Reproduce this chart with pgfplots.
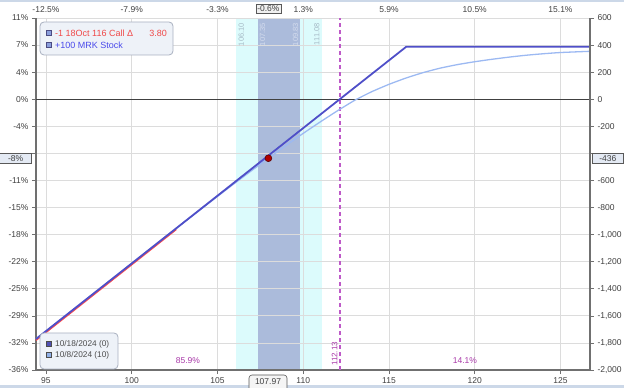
\documentclass[border=0pt]{standalone}
\usepackage{pgfplots}
\pgfplotsset{compat=1.18}
\usepackage{pgfplotstable}
\usepackage{fontspec}
\setmainfont{Liberation Sans}
\definecolor{darkline}{HTML}{4F4FC8}
\definecolor{lightline}{HTML}{9CB9F2}
\definecolor{redline}{HTML}{FF4A4A}
\definecolor{cyanband}{HTML}{DCFBFC}
\definecolor{darkband}{HTML}{ABBBDB}
\definecolor{purp}{HTML}{A838A8}
\definecolor{dashcol}{HTML}{BE5AC8}
\definecolor{ticktext}{HTML}{404040}
\definecolor{axisline}{HTML}{707070}
\definecolor{gridc}{HTML}{DCDCDC}
\definecolor{legfill}{HTML}{EEF2F8}
\definecolor{legdraw}{HTML}{A8B0C0}
\definecolor{hlfill}{HTML}{E4EAF4}
\definecolor{stripc}{HTML}{CCD8E8}
\definecolor{bandtxt}{HTML}{A6BAC6}
\definecolor{bandtxtl}{HTML}{D4DCEE}
\newcommand\tickfont{\fontsize{8.5}{10}\selectfont}

\pgfplotstableread{
x y
94.42 -1771
116 387
126.72 387
}\expline
\pgfplotstableread{
x y
94.42 -1771
100 -1213
102 -1013
103 -914
104 -816
105 -718
106 -621
107 -526
107.97 -436
109 -341
110 -252
111 -167
112 -85
113 -8
114 56
115 110
116 157
117 197
118 230
119 256
120 277
121 295
122 311
123 325
124 336
125 345
126.72 354
}\tline
\pgfplotstableread{
x y
94.42 -1780
102.6 -961
}\redl

\pgfplotsset{base/.style={
  at={(0pt,0pt)}, anchor=south west,
  scale only axis, width=554pt, height=352pt,
  xmin=94.42, xmax=126.72, ymin=-2000, ymax=600}}

\begin{document}
\begin{tikzpicture}
\useasboundingbox (-36pt,-18pt) rectangle (588pt,370pt);
\fill[stripc] (-36pt,367.5pt) rectangle (588pt,370pt);
\fill[stripc] (-36pt,-18pt) rectangle (588pt,-15pt);
% bands
\begin{axis}[base, hide axis]
\addplot[fill=cyanband, draw=none] coordinates {(106.10,-2000) (106.10,600) (111.08,600) (111.08,-2000)} -- cycle;
\addplot[fill=darkband, draw=none] coordinates {(107.35,-2000) (107.35,600) (109.83,600) (109.83,-2000)} -- cycle;
\end{axis}
\begin{axis}[
  base,
  axis x line*=bottom, axis y line*=left,
  axis line style={-, draw=axisline, line width=1.3pt},
  tick align=outside, major tick length=4pt,
  tick style={draw=axisline, line width=0.6pt},
  xtick={95,100,...,125},
  ytick={-2000,-1800,...,600},
  yticklabels={-36\%,-32\%,-29\%,-25\%,-22\%,-18\%,-15\%,-11\%,{},-4\%,0\%,4\%,7\%,11\%},
  grid=major, grid style={draw=gridc, line width=0.8pt},
  ticklabel style={font=\tickfont, text=ticktext},
  /pgf/number format/assume math mode=true,
  clip=false,
]
\draw[black!75, line width=1pt] (axis cs:94.42,0) -- (axis cs:126.72,0);
\draw[draw=dashcol, line width=1.5pt, dash pattern=on 4pt off 3pt] (axis cs:112.13,-2000) -- (axis cs:112.13,600);
\addplot[lightline, line width=1.3pt, smooth, tension=0.3] table {\tline};
\addplot[redline, line width=1.6pt] table {\redl};
\addplot[darkline, line width=1.8pt] table {\expline};
\addplot[only marks, mark=*, mark size=3.4pt, mark options={fill=red!70!black, draw=red!35!black, line width=0.6pt}] coordinates {(107.97,-436)};
\node[rotate=90, anchor=north east, font=\fontsize{7.5}{9}\selectfont, text=bandtxt, inner sep=1pt] at ([yshift=-4pt, xshift=1pt]axis cs:106.10,600) {106.10};
\node[rotate=90, anchor=north east, font=\fontsize{7.5}{9}\selectfont, text=bandtxtl, inner sep=1pt] at ([yshift=-4pt, xshift=1pt]axis cs:107.35,600) {107.35};
\node[rotate=90, anchor=south east, font=\fontsize{7.5}{9}\selectfont, text=bandtxtl, inner sep=1pt] at ([yshift=-4pt, xshift=-1pt]axis cs:109.83,600) {109.83};
\node[rotate=90, anchor=south east, font=\fontsize{7.5}{9}\selectfont, text=bandtxt, inner sep=1pt] at ([yshift=-4pt, xshift=-1pt]axis cs:111.08,600) {111.08};
\node[rotate=90, anchor=south west, font=\fontsize{8}{9}\selectfont, text=purp, inner sep=1pt] at ([yshift=3pt, xshift=-1pt]axis cs:112.13,-2000) {112.13};
\node[font=\fontsize{8.5}{10}\selectfont, text=purp] at (axis cs:103.28,-1933) {85.9\%};
\node[font=\fontsize{8.5}{10}\selectfont, text=purp] at (axis cs:119.43,-1933) {14.1\%};
\end{axis}
\begin{axis}[
  base,
  axis x line*=top, axis y line*=right,
  x axis line style={draw=none},
  y axis line style={-, draw=axisline, line width=1.3pt},
  tick align=outside, major tick length=4pt,
  ytick style={draw=axisline, line width=0.6pt},
  xtick style={draw=none},
  xtick={95,100,...,125},
  xticklabels={-12.5\%,-7.9\%,-3.3\%,1.3\%,5.9\%,10.5\%,15.1\%},
  xticklabel style={yshift=-2.5pt},
  ytick={-2000,-1800,...,600},
  yticklabels={{-2,000},{-1,800},{-1,600},{-1,400},{-1,200},{-1,000},{-800},{-600},{},{-200},{0},{200},{400},{600}},
  ticklabel style={font=\tickfont, text=ticktext},
]
\addplot[draw=none, forget plot] coordinates {(100,0) (110,-100)};
\end{axis}
% highlighted value boxes
\node[draw=gray!70!black, fill=gray!12, inner sep=1.5pt, font=\tickfont, text=ticktext, line width=0.6pt] at (232.4pt,361pt) {-0.6\%};
\node[draw=gray!70!black, fill=hlfill, inner sep=1.5pt, minimum width=32pt, align=right, anchor=east, font=\tickfont, text=ticktext, line width=0.6pt] at (-4pt,211.7pt) {\hfill-8\%};
\node[draw=gray!70!black, fill=hlfill, inner sep=1.5pt, minimum width=31pt, anchor=west, font=\tickfont, text=ticktext, line width=0.6pt] at (556pt,211.7pt) {-436\hfill};
\draw[draw=gray!70!black, fill=gray!8, line width=0.6pt, rounded corners=3pt] (213pt,-18pt) -- (213pt,-5pt) -- (251pt,-5pt) -- (251pt,-18pt);
\node[font=\tickfont, text=ticktext] at (232pt,-11.5pt) {107.97};
% top legend
\draw[draw=legdraw, fill=legfill, rounded corners=4pt, line width=0.8pt] (4pt,315pt) rectangle (137pt,348pt);
\draw[draw=blue!30!black!70, fill={rgb,255:red,138;green,158;blue,220}, line width=0.5pt] (10.5pt,334.5pt) rectangle (15.5pt,339.5pt);
\draw[draw=blue!30!black!70, fill={rgb,255:red,138;green,158;blue,220}, line width=0.5pt] (10.5pt,322.5pt) rectangle (15.5pt,327.5pt);
\node[anchor=west, inner sep=0pt, font=\fontsize{9}{10}\selectfont, text={rgb,255:red,240;green,72;blue,72}] at (19pt,337pt) {-1 18Oct 116 Call Δ};
\node[anchor=east, inner sep=0pt, font=\fontsize{9}{10}\selectfont, text={rgb,255:red,240;green,72;blue,72}] at (131pt,337pt) {3.80};
\node[anchor=west, inner sep=0pt, font=\fontsize{9}{10}\selectfont, text={rgb,255:red,74;green,74;blue,235}] at (19pt,325pt) {+100 MRK Stock};
% bottom legend
\draw[draw=legdraw, fill=legfill, rounded corners=4pt, line width=0.8pt] (4pt,1pt) rectangle (82pt,37pt);
\draw[draw=gray!60!black, fill={rgb,255:red,80;green,80;blue,180}, line width=0.5pt] (10.5pt,23.5pt) rectangle (15.5pt,28.5pt);
\draw[draw=gray!60!black, fill={rgb,255:red,144;green,176;blue,232}, line width=0.5pt] (10.5pt,12.5pt) rectangle (15.5pt,17.5pt);
\node[anchor=west, inner sep=0pt, font=\fontsize{8.3}{10}\selectfont, text=black!70] at (19pt,26pt) {10/18/2024 (0)};
\node[anchor=west, inner sep=0pt, font=\fontsize{8.3}{10}\selectfont, text=black!70] at (19pt,15pt) {10/8/2024 (10)};
\end{tikzpicture}
\end{document}
